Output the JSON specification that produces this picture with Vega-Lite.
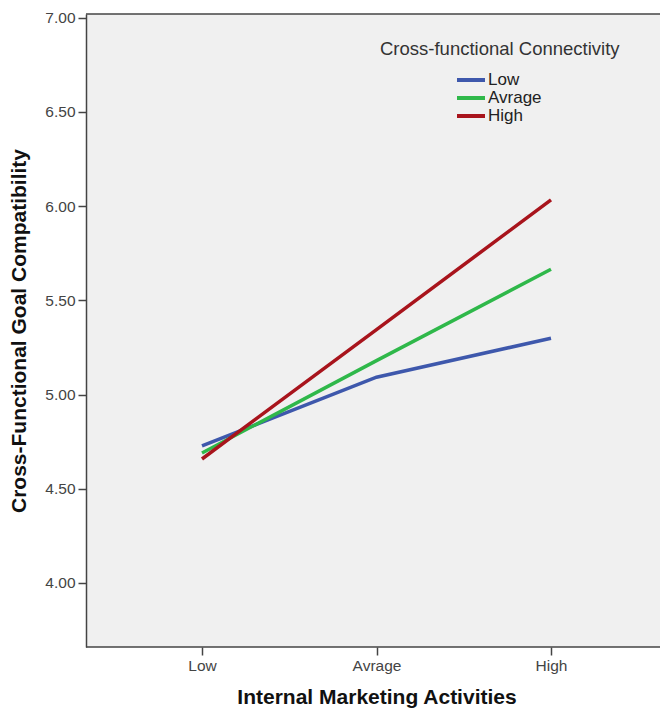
{
  "$schema": "https://vega.github.io/schema/vega-lite/v6.json",
  "width": 574,
  "height": 633,
  "autosize": "none",
  "padding": {"left": 86, "top": 14, "right": 0, "bottom": 63},
  "background": "white",
  "title": {
    "text": "Cross-functional Connectivity",
    "orient": "top",
    "anchor": "start",
    "frame": "group",
    "offset": 0,
    "dx": 294,
    "dy": 57,
    "baseline": "middle",
    "font": "Liberation Sans",
    "fontSize": 18.5,
    "fontWeight": "normal",
    "color": "#333"
  },
  "data": {
    "values": [
      {"activities": "Low", "connectivity": "Low", "compatibility": 4.727},
      {"activities": "Avrage", "connectivity": "Low", "compatibility": 5.092},
      {"activities": "High", "connectivity": "Low", "compatibility": 5.299},
      {"activities": "Low", "connectivity": "Avrage", "compatibility": 4.69},
      {"activities": "Avrage", "connectivity": "Avrage", "compatibility": 5.18},
      {"activities": "High", "connectivity": "Avrage", "compatibility": 5.665},
      {"activities": "Low", "connectivity": "High", "compatibility": 4.658},
      {"activities": "Avrage", "connectivity": "High", "compatibility": 5.345},
      {"activities": "High", "connectivity": "High", "compatibility": 6.033}
    ]
  },
  "layer": [
    {
      "mark": {"type": "line", "strokeWidth": 3.5},
      "encoding": {
        "x": {
          "field": "activities",
          "type": "ordinal",
          "sort": ["Low", "Avrage", "High"],
          "scale": {"type": "point", "padding": 0, "range": [116, 465]},
          "axis": {
            "title": "Internal Marketing Activities",
            "labelAngle": 0,
            "domain": false,
            "tickSize": 8,
            "labelPadding": 3,
            "titlePadding": 13
          }
        },
        "y": {
          "field": "compatibility",
          "type": "quantitative",
          "scale": {"domain": [3.66, 7.02], "nice": false, "zero": false},
          "axis": {
            "title": "Cross-Functional Goal Compatibility",
            "values": [4, 4.5, 5, 5.5, 6, 6.5, 7],
            "format": ".2f",
            "tickSize": 8,
            "labelPadding": 3,
            "titlePadding": 15
          }
        },
        "color": {
          "field": "connectivity",
          "type": "nominal",
          "sort": ["Low", "Avrage", "High"],
          "scale": {"range": ["#3e58ac", "#2fb84a", "#a8141c"]},
          "legend": {
            "orient": "none",
            "legendX": 369,
            "legendY": 57,
            "title": null,
            "symbolType": "stroke",
            "symbolSize": 784,
            "symbolStrokeWidth": 4,
            "clipHeight": 18,
            "rowPadding": 0,
            "labelOffset": 1,
            "labelFontSize": 17,
            "labelFont": "Liberation Sans",
            "labelColor": "#222"
          }
        }
      }
    },
    {
      "data": {"values": [{"edge": 7.02}, {"edge": 3.66}]},
      "mark": {"type": "rule", "color": "#444", "strokeWidth": 1.5},
      "encoding": {"y": {"field": "edge", "type": "quantitative"}}
    }
  ],
  "config": {
    "view": {"fill": "#f0f0f0", "stroke": null},
    "axis": {
      "grid": false,
      "labelFont": "Liberation Sans",
      "labelFontSize": 15.5,
      "labelColor": "#444",
      "titleFont": "Liberation Sans",
      "titleFontSize": 21,
      "titleFontWeight": "bold",
      "titleColor": "#111",
      "domainColor": "#444",
      "domainWidth": 1.5,
      "tickColor": "#444",
      "tickWidth": 1.5
    }
  }
}
